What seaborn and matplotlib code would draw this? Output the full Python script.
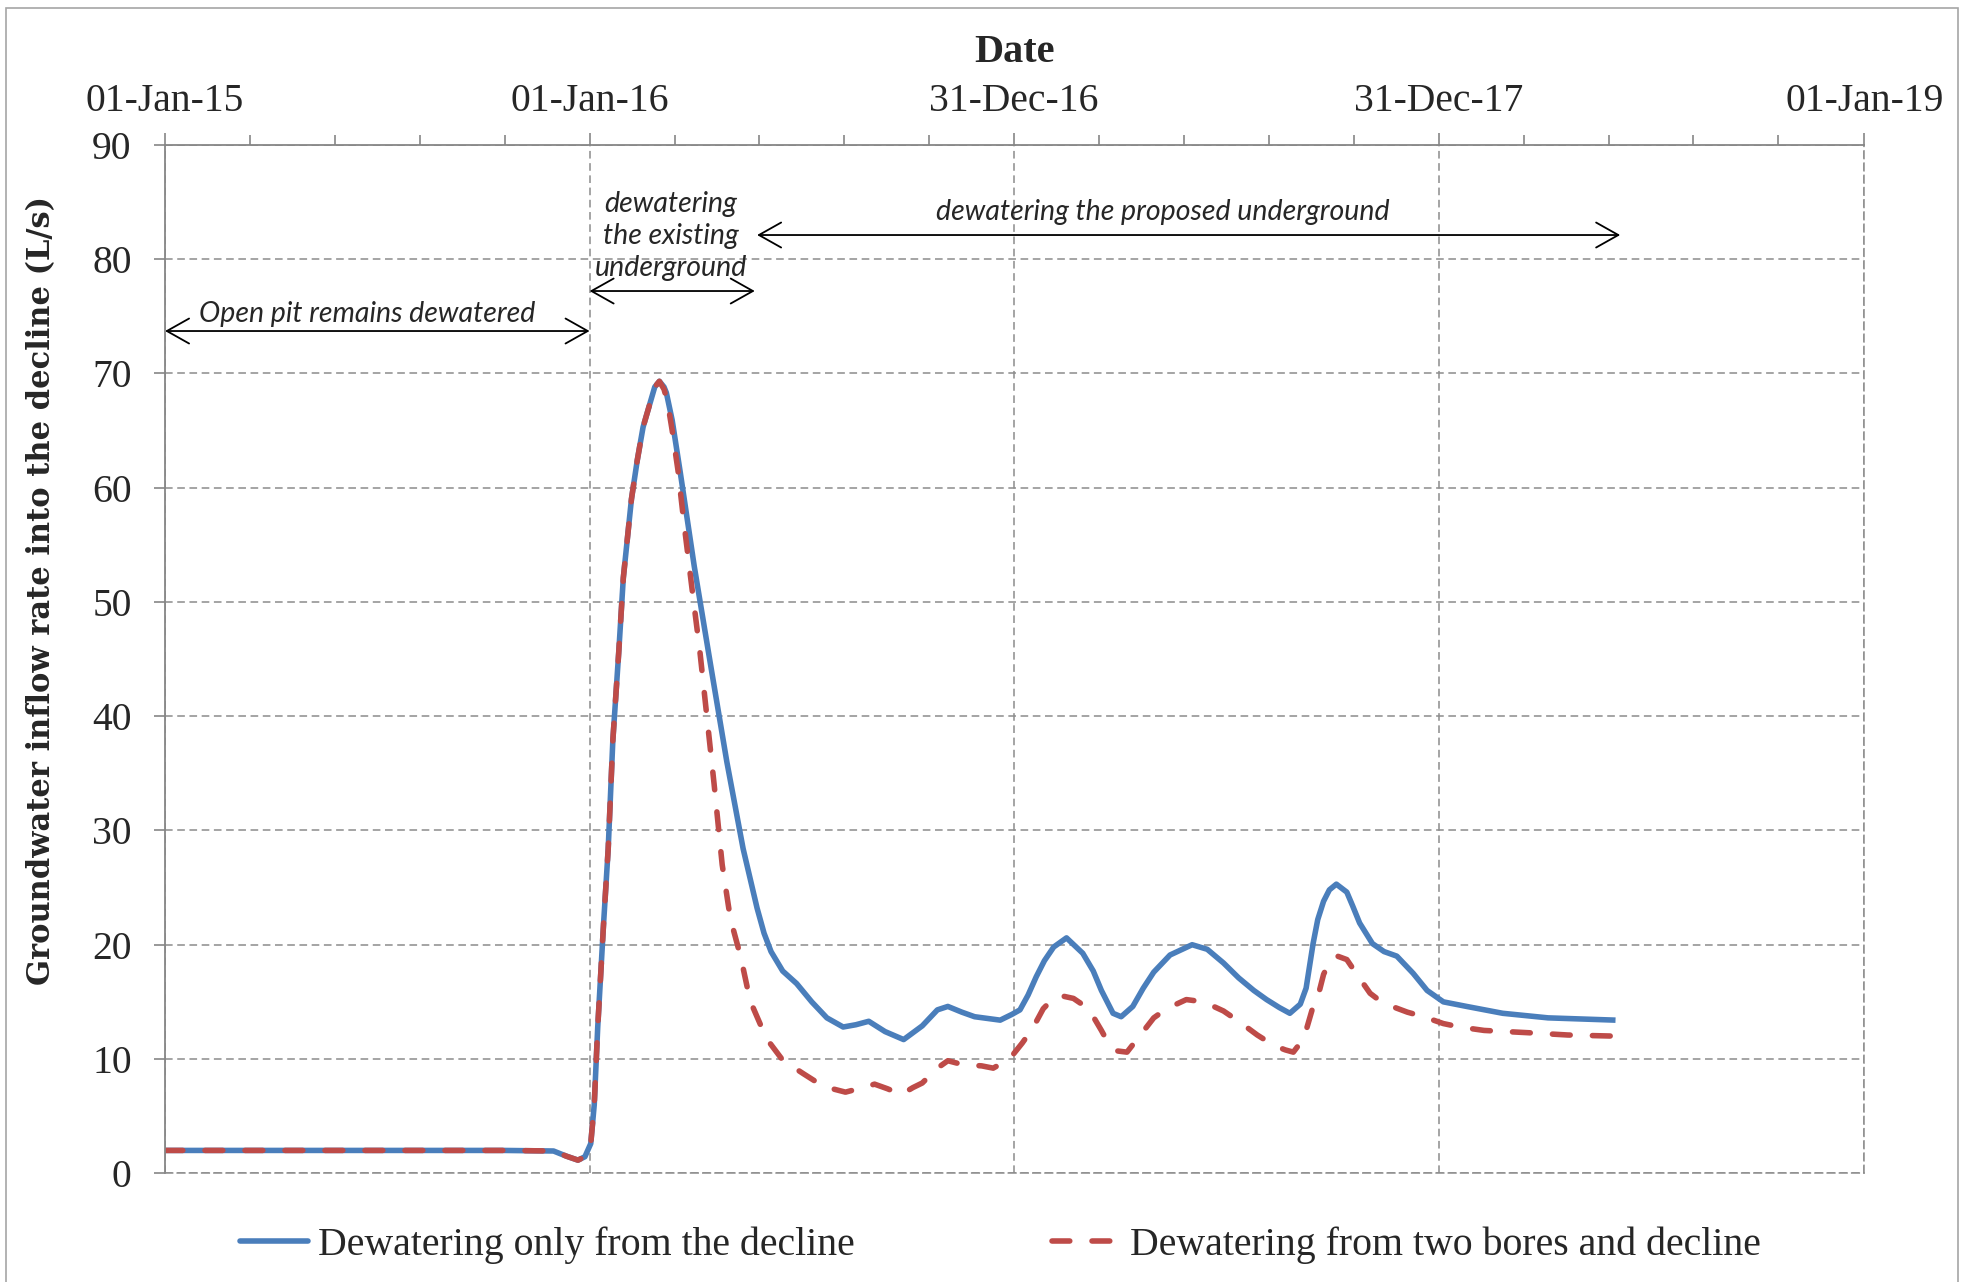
import numpy as np
import pandas as pd
import matplotlib
matplotlib.use("Agg")
import matplotlib.pyplot as plt
import matplotlib.dates as mdates
from matplotlib.lines import Line2D
from matplotlib.patches import Rectangle
import seaborn as sns

# ---------------------------------------------------------------- data
START = pd.Timestamp("2015-01-01")

# days elapsed since 01-Jan-15 and inflow rate (L/s)
decline_days = [0, 75, 183, 291, 334, 345, 355, 361, 366, 369,
                372, 377, 381, 385, 390, 394, 401, 406, 411, 417,
                421, 425, 429, 431, 436, 443, 455, 469, 483, 497,
                509, 515, 521, 531, 543, 556, 569, 583, 594, 605,
                619, 635, 651, 664, 673, 685, 696, 718, 728, 735,
                742, 749, 756, 764, 775, 789, 798, 805, 815, 822,
                832, 841, 850, 864, 883, 896, 910, 923, 936, 947,
                958, 967, 976, 981, 987, 991, 996, 1001, 1007, 1016,
                1021, 1027, 1038, 1048, 1059, 1073, 1085, 1099, 1119, 1150,
                1189, 1247]
decline_flow = [2.0, 2.0, 2.0, 2.0, 1.95, 1.5, 1.15, 1.45, 2.6, 6.0,
                12.8, 21.8, 28.4, 37.9, 45.5, 52.1, 59.0, 62.4, 65.3, 67.4,
                68.8, 69.3, 68.8, 68.3, 65.9, 61.3, 53.1, 44.5, 36.0, 28.4,
                23.2, 21.0, 19.4, 17.7, 16.6, 15.0, 13.6, 12.8, 13.0, 13.3,
                12.4, 11.7, 12.9, 14.3, 14.6, 14.1, 13.7, 13.4, 13.9, 14.3,
                15.6, 17.2, 18.6, 19.8, 20.6, 19.25, 17.7, 16.0, 14.0, 13.7,
                14.6, 16.2, 17.6, 19.1, 20.0, 19.6, 18.4, 17.1, 16.0, 15.2,
                14.5, 14.0, 14.8, 16.2, 20.1, 22.2, 23.8, 24.8, 25.3, 24.6,
                23.4, 21.9, 20.1, 19.4, 19.0, 17.5, 16.0, 15.0, 14.6, 14.0,
                13.6, 13.4]

bores_days = [0, 75, 183, 291, 334, 345, 355, 361, 366, 369,
              372, 377, 381, 385, 390, 394, 401, 406, 411, 417,
              421, 425, 429, 432, 436, 441, 446, 453, 460, 466,
              472, 479, 486, 495, 503, 517, 531, 549, 566, 585,
              600, 610, 621, 633, 643, 651, 664, 673, 686, 702,
              712, 726, 737, 746, 755, 765, 772, 781, 794, 805,
              812, 819, 827, 837, 850, 861, 878, 893, 910, 923,
              939, 953, 963, 970, 979, 987, 992, 996, 1001, 1008,
              1016, 1025, 1036, 1047, 1068, 1082, 1099, 1113, 1134, 1172,
              1206, 1247]
bores_flow = [2.0, 2.0, 2.0, 2.0, 1.95, 1.5, 1.15, 1.45, 2.6, 6.0,
              12.8, 21.8, 28.4, 37.9, 45.5, 52.1, 59.0, 62.4, 65.3, 67.4,
              68.8, 69.3, 68.6, 67.5, 65.0, 61.5, 57.0, 51.2, 45.5, 39.8,
              34.1, 27.0, 22.3, 18.9, 15.1, 11.8, 9.9, 8.7, 7.6, 7.1,
              7.5, 7.8, 7.4, 6.9, 7.5, 7.9, 9.2, 9.85, 9.5, 9.4,
              9.2, 10.0, 11.4, 12.7, 14.4, 15.45, 15.5, 15.3, 14.4, 12.5,
              11.2, 10.7, 10.6, 11.9, 13.6, 14.4, 15.2, 15.0, 14.2, 13.3,
              12.1, 11.2, 10.8, 10.6, 11.8, 14.6, 15.8, 17.4, 18.5, 19.0,
              18.7, 17.35, 15.75, 14.9, 14.1, 13.7, 13.1, 12.8, 12.5, 12.3,
              12.1, 12.0]

series_names = ["Dewatering only from the decline",
                "Dewatering from two bores and decline"]
series_colors = ["#4A7EBB", "#BE4B48"]

x_tick_dates = ["2015-01-01", "2016-01-01", "2016-12-31", "2017-12-31", "2019-01-01"]
x_tick_labels = ["01-Jan-15", "01-Jan-16", "31-Dec-16", "31-Dec-17", "01-Jan-19"]
y_ticks = [0, 10, 20, 30, 40, 50, 60, 70, 80, 90]

# ---------------------------------------------------------------- frame
df = pd.concat([
    pd.DataFrame({"date": START + pd.to_timedelta(decline_days, unit="D"),
                  "flow": decline_flow, "series": series_names[0]}),
    pd.DataFrame({"date": START + pd.to_timedelta(bores_days, unit="D"),
                  "flow": bores_flow, "series": series_names[1]}),
], ignore_index=True)

sns.set_style("white")
plt.rcParams["font.family"] = ["Liberation Serif", "DejaVu Serif"]

GRID = "#8C8C8C"
AXIS = "#868686"
LW = 4.0
RED_DASH = (3.2, 4.0)
TICK_FONT = dict(family="Liberation Serif", size=28.5)
NOTE_FONT = dict(family="Lato", style="italic", size=20.5)

fig = plt.figure(figsize=(19.74, 12.82), dpi=100, facecolor="white")
ax = fig.add_axes([0.0836, 0.0848, 0.8609, 0.8023])

palette = dict(zip(series_names, series_colors))
dash_map = {series_names[0]: "", series_names[1]: RED_DASH}
sns.lineplot(data=df, x="date", y="flow", hue="series", style="series",
             palette=palette, dashes=dash_map, linewidth=LW,
             estimator=None, sort=False, ax=ax, legend=False)
for ln in ax.lines:
    ln.set_solid_joinstyle("round")
    ln.set_dash_joinstyle("round")
    ln.set_dash_capstyle("round")
    ln.set_solid_capstyle("butt")

# ---------------------------------------------------------------- axes
major = pd.to_datetime(x_tick_dates)
minor = [m + pd.Timedelta(days=73 * k) for m in major[:-1] for k in range(1, 5)]
ax.set_xlim(major[0], major[-1])
ax.set_ylim(0, 90)
ax.set_xticks(major)
ax.set_xticklabels(x_tick_labels, fontdict=TICK_FONT)
ax.set_xticks(minor, minor=True)
ax.set_yticks(y_ticks)
ax.set_yticklabels([str(v) for v in y_ticks], fontdict=TICK_FONT)

ax.xaxis.tick_top()
ax.tick_params(axis="x", which="major", top=True, bottom=False, labeltop=True,
               labelbottom=False, length=9, width=1.2, color=AXIS, pad=9)
ax.tick_params(axis="x", which="minor", top=True, bottom=False, length=7,
               width=1.2, color=AXIS)
ax.tick_params(axis="y", which="major", left=True, length=8, width=1.2,
               color=AXIS, pad=16)

ax.grid(True, which="major", color=GRID, linestyle=(0, (5, 3)), linewidth=1.1)
ax.set_axisbelow(True)

for side in ("top", "left"):
    ax.spines[side].set_color(AXIS)
    ax.spines[side].set_linewidth(1.3)
for side in ("bottom", "right"):
    ax.spines[side].set_color(GRID)
    ax.spines[side].set_linewidth(1.1)
    ax.spines[side].set_linestyle((0, (5, 3)))

ax.xaxis.set_label_position("top")
ax.set_xlabel("Date", fontdict=dict(family="Liberation Serif", weight="bold", size=29))
ax.xaxis.set_label_coords(0.5, 1.0895)
ax.xaxis.label.set_va("center")
ax.set_ylabel("Groundwater inflow rate into the decline (L/s)",
              fontdict=dict(family="DejaVu Serif", weight="bold", size=22))
ax.yaxis.set_label_coords(-0.0727, 0.567)
ax.yaxis.label.set_va("center")

# ---------------------------------------------------------------- phase notes
def d(s):
    return mdates.date2num(pd.Timestamp(s))

arrow = dict(arrowstyle="<->,head_length=0.8,head_width=0.45", color="black",
             lw=1.3, shrinkA=0, shrinkB=0, mutation_scale=20)

ax.annotate("", xy=(d("2016-01-01"), 73.7), xytext=(d("2015-01-01"), 73.7),
            arrowprops=arrow)
ax.text(d("2015-06-24"), 75.15, "Open pit remains dewatered", ha="center",
        va="center", fontdict=NOTE_FONT)

ax.annotate("", xy=(d("2016-05-22"), 77.2), xytext=(d("2016-01-01"), 77.2),
            arrowprops=arrow)
ax.text(d("2016-03-11"), 82.0, "dewatering\nthe existing\nunderground",
        ha="center", va="center", linespacing=1.3, fontdict=NOTE_FONT)

ax.annotate("", xy=(d("2018-06-05"), 82.1), xytext=(d("2016-05-24"), 82.1),
            arrowprops=arrow)
ax.text(d("2017-05-08"), 84.1, "dewatering the proposed underground",
        ha="center", va="center", fontdict=NOTE_FONT)

# ---------------------------------------------------------------- legend
handles = [
    Line2D([], [], color=series_colors[0], lw=LW),
    Line2D([], [], color=series_colors[1], lw=LW, dashes=RED_DASH,
           dash_capstyle="round"),
]
fig.legend(handles, series_names, loc="center", bbox_to_anchor=(0.5067, 0.029),
           ncol=2, frameon=False, prop=dict(family="Liberation Serif", size=28.6),
           handlelength=1.71, handletextpad=0.25, columnspacing=4.98)

# thin outer frame around the chart area
fig.add_artist(Rectangle((6 / 1974, -0.02), (1958 - 6) / 1974, 0.994 + 0.02,
                         transform=fig.transFigure, fill=False,
                         edgecolor="#A6A6A6", lw=1.2))

fig.savefig("out.png", dpi=100, facecolor="white")
